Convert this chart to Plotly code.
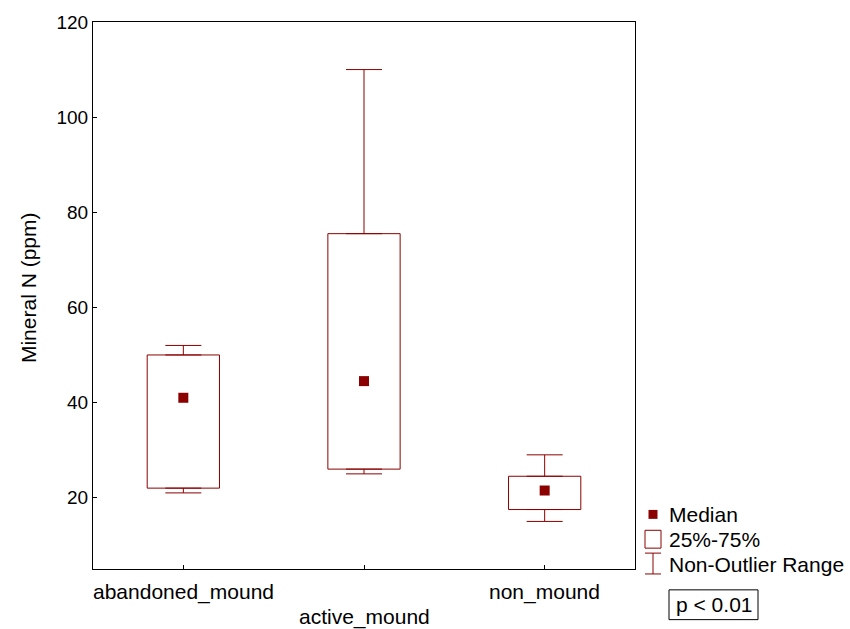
import plotly.graph_objects as go

# Summary statistics per site type (Mineral N, ppm)
categories = ["abandoned_mound", "active_mound", "non_mound"]
q1 = [22.0, 26.0, 17.5]
q3 = [50.0, 75.5, 24.5]
median = [41.0, 44.5, 21.5]
whisker_low = [21.0, 25.0, 15.0]
whisker_high = [52.0, 110.0, 29.0]
y_ticks = [20, 40, 60, 80, 100, 120]

RED = "#8B0000"
FONT = "Liberation Sans, Arial, sans-serif"
TXT = 21
W, H = 850, 629
L, R, T, B = 93, 215, 18, 60

xpos = list(range(len(categories)))

fig = go.Figure()

# Whiskers: from box edges out to the non-outlier range limits
fig.add_trace(go.Scatter(
    x=xpos, y=q3, mode="markers", marker=dict(size=1, opacity=0),
    error_y=dict(type="data", symmetric=False,
                 array=[h - t for h, t in zip(whisker_high, q3)],
                 arrayminus=[0] * len(q3),
                 color=RED, thickness=1, width=18),
    showlegend=False, hoverinfo="skip"))
fig.add_trace(go.Scatter(
    x=xpos, y=q1, mode="markers", marker=dict(size=1, opacity=0),
    error_y=dict(type="data", symmetric=False,
                 array=[0] * len(q1),
                 arrayminus=[b - lo for b, lo in zip(q1, whisker_low)],
                 color=RED, thickness=1, width=18),
    showlegend=False, hoverinfo="skip"))

# 25%-75% boxes
fig.add_trace(go.Bar(
    x=xpos, base=q1, y=[t - b for t, b in zip(q3, q1)], width=0.4,
    marker=dict(color="white", line=dict(color=RED, width=1)),
    showlegend=False, hoverinfo="skip"))

# Medians
fig.add_trace(go.Scatter(
    x=xpos, y=median, mode="markers",
    marker=dict(symbol="square", size=10, color=RED),
    showlegend=False, hoverinfo="skip"))

pw = W - L - R
ph = H - T - B


def px(xp):
    return (xp - L) / pw


def py(yp):
    return (H - B - yp) / ph


shapes = []
annotations = []

# Y axis title
annotations.append(dict(x=px(28), y=py(286), xref="paper", yref="paper",
                        text="Mineral N (ppm)", textangle=-90, showarrow=False,
                        font=dict(size=TXT, color="black", family=FONT),
                        xanchor="center", yanchor="middle"))

# Category labels, staggered
label_rows = [592, 617, 592]
for i, (c, yr) in enumerate(zip(categories, label_rows)):
    annotations.append(dict(x=i, y=py(yr), xref="x", yref="paper", text=c,
                            showarrow=False, font=dict(size=TXT, color="black", family=FONT),
                            xanchor="center", yanchor="middle"))

# Legend block
lx = 653
shapes.append(dict(type="rect", xref="paper", yref="paper",
                   x0=px(lx - 4.5), x1=px(lx + 4.5), y0=py(518.5), y1=py(509.5),
                   fillcolor=RED, line=dict(width=0)))
shapes.append(dict(type="rect", xref="paper", yref="paper",
                   x0=px(645), x1=px(661), y0=py(548), y1=py(530),
                   fillcolor="white", line=dict(color=RED, width=1)))
shapes.append(dict(type="line", xref="paper", yref="paper",
                   x0=px(lx), x1=px(lx), y0=py(574), y1=py(553),
                   line=dict(color=RED, width=1)))
for yy in (553, 574):
    shapes.append(dict(type="line", xref="paper", yref="paper",
                       x0=px(lx - 8), x1=px(lx + 8), y0=py(yy), y1=py(yy),
                       line=dict(color=RED, width=1)))
for txt, yy in (("Median", 514), ("25%-75%", 539), ("Non-Outlier Range", 564)):
    annotations.append(dict(x=px(667), y=py(yy), xref="paper", yref="paper", text=txt,
                            showarrow=False, font=dict(size=TXT, color="black", family=FONT),
                            xanchor="left", yanchor="middle"))

# Test result box
shapes.append(dict(type="rect", xref="paper", yref="paper",
                   x0=px(669), x1=px(758), y0=py(620), y1=py(590),
                   fillcolor="white", line=dict(color="black", width=1)))
annotations.append(dict(x=px(713.5), y=py(605), xref="paper", yref="paper", text="p < 0.01",
                        showarrow=False, font=dict(size=TXT, color="black", family=FONT),
                        xanchor="center", yanchor="middle"))

fig.update_layout(
    width=W, height=H,
    margin=dict(l=L, r=R, t=T, b=B, pad=0),
    paper_bgcolor="white", plot_bgcolor="white",
    barmode="overlay",
    font=dict(family=FONT, size=19, color="black"),
    shapes=shapes, annotations=annotations,
    xaxis=dict(range=[-0.5, 2.5], tickvals=xpos, ticktext=["", "", ""],
               ticks="inside", ticklen=4, tickcolor="black",
               showgrid=False, zeroline=False, showline=True, mirror=True,
               linecolor="black", linewidth=1, fixedrange=True),
    yaxis=dict(range=[5, 120], tickvals=y_ticks, ticks="inside", ticklen=4,
               tickcolor="black", showgrid=False, zeroline=False,
               showline=True, mirror=True, linecolor="black", linewidth=1,
               tickfont=dict(size=19), fixedrange=True),
)

fig.write_html("out.html")
